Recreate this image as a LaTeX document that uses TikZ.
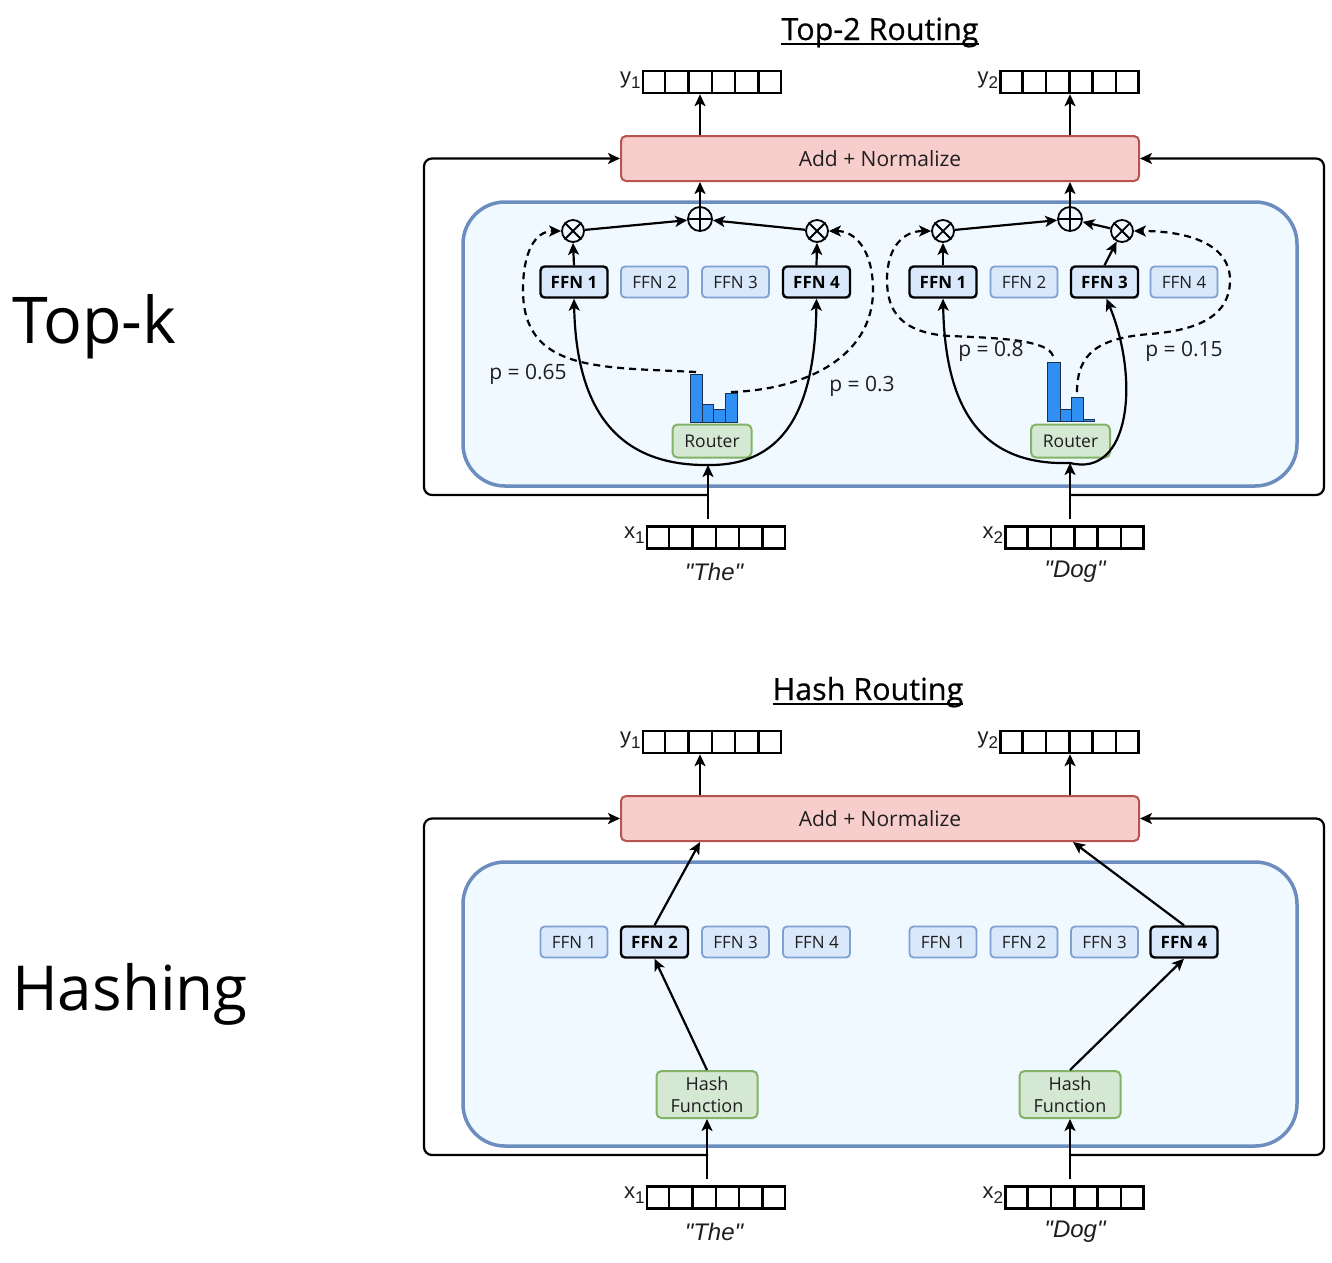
\documentclass[tikz,border=0pt]{standalone}
\usepackage{fontspec}
\setmainfont{Open Sans}
\newfontfamily\titlefont[FakeBold=0.6]{Open Sans}
\newfontfamily\vecfont{Liberation Sans}
\usetikzlibrary{arrows.meta,calc}
\definecolor{addfill}{HTML}{F8CECC}
\definecolor{addborder}{HTML}{B85450}
\definecolor{contfill}{HTML}{F0F9FF}
\definecolor{contborder}{HTML}{6C8EBF}
\definecolor{ffnfill}{HTML}{DAE8FC}
\definecolor{ffnborder}{HTML}{7EA1D3}
\definecolor{ffntext}{HTML}{1E1E1E}
\definecolor{routfill}{HTML}{D5E8D4}
\definecolor{routborder}{HTML}{82B366}
\definecolor{barfill}{HTML}{2F8FF2}
\definecolor{barborder}{HTML}{1B2F4E}
\newcommand{\fsz}[2]{\fontsize{#1}{#2}\selectfont}
\newcommand{\vecbox}[3]{%
  \node[vecst] (#1) at (#2,#3) {};
  \foreach \k in {1,...,5}
    \draw[line width=2.4pt] ([xshift=\k*23.33pt]#1.north west) -- ([xshift=\k*23.33pt]#1.south west);
}
\newcommand{\veclabel}[3]{%
  \node[anchor=east, inner sep=1pt, font=\vecfont\fsz{22pt}{22pt}, text=ffntext] at ([yshift=2pt]#1.west) {#2\raisebox{-5pt}{\fsz{17pt}{17pt}#3}};
}
\begin{document}
\begin{tikzpicture}[x=1pt,y=-1pt,
  vecst/.style={draw, line width=2.4pt, minimum width=138pt, minimum height=22pt, inner sep=0},
  ffn/.style={draw=ffnborder, fill=ffnfill, rounded corners=4pt, line width=1.8pt, minimum width=67pt, minimum height=31pt, inner sep=0, font=\fsz{17pt}{17pt}, text=ffntext},
  ffnon/.style={ffn, draw=black, line width=2.4pt, font=\fsz{17pt}{17pt}\bfseries, text=black},
  addbox/.style={draw=addborder, fill=addfill, rounded corners=5pt, line width=2pt, minimum width=518pt, minimum height=45pt, inner sep=0, font=\fsz{21pt}{21pt}, text=ffntext},
  container/.style={draw=contborder, fill=contfill, line width=3.5pt, rounded corners=42pt},
  router/.style={draw=routborder, fill=routfill, rounded corners=5pt, line width=2pt, minimum width=79pt, minimum height=33pt, inner sep=0, font=\fsz{17.5pt}{17.5pt}, text=ffntext},
  hashbox/.style={draw=routborder, fill=routfill, rounded corners=5pt, line width=2pt, minimum width=101pt, minimum height=47pt, inner sep=0, align=center, font=\fsz{18pt}{22pt}, text=ffntext},
  opc/.style={draw, circle, line width=1.8pt, minimum size=22pt, inner sep=0},
  conn/.style={draw, line width=2.2pt, -{Stealth[length=12pt,width=11pt,inset=3pt]}},
  dconn/.style={conn, dash pattern=on 7pt off 5pt},
  plab/.style={font=\fsz{21pt}{21pt}, text=ffntext, inner sep=0},
  bar/.style={fill=barfill, draw=barborder, line width=1pt},
  title/.style={font=\titlefont\fsz{30.5pt}{30.5pt}, inner sep=0, anchor=base},
  side/.style={font=\fsz{62pt}{62pt}, inner sep=0, anchor=base west},
  word/.style={font=\vecfont\fsz{24pt}{24pt}\itshape, text=ffntext, inner sep=0}
]
\useasboundingbox (0,0) rectangle (1332,1262);

% ---------------- side labels
\node[side, font=\fsz{64.5pt}{64.5pt}] (topk) at (12,343) {Top-k};
\node[side] (hashing) at (12,1010) {Hashing};

% ================= TOP-2 ROUTING =================
\node[title] (t1) at (880,40) {Top-2 Routing};
\draw[line width=1.7pt] ($(t1.base west)+(0,4)$) -- ($(t1.base east)+(0,4)$);

% skip connections
\coordinate (sL) at (708,495);
\coordinate (sR) at (1070,495);
\node[addbox] (addT) at (880,158.5) {Add + Normalize};
\draw[conn, rounded corners=8pt] (sL) -- (424,495) -- (424,158.5) -- (addT.west);
\draw[conn, rounded corners=8pt] (sR) -- (1324,495) -- (1324,158.5) -- (addT.east);

% container
\draw[container] (463,202) rectangle (1297,486);

% vectors
\vecbox{y1}{712}{82}
\vecbox{y2}{1069.5}{82}
\vecbox{x1}{716}{537.5}
\vecbox{x2}{1074.5}{537.5}
\veclabel{y1}{y}{1}
\veclabel{y2}{y}{2}
\veclabel{x1}{x}{1}
\veclabel{x2}{x}{2}
\node[word] (w1) at (714,572) {"The"};
\node[word] (w2) at (1075,572) {"Dog"};

% FFNs
\node[ffnon] (fL1) at (574,282) {FFN 1};
\node[ffn]   (fL2) at (654.5,282) {FFN 2};
\node[ffn]   (fL3) at (735.5,282) {FFN 3};
\node[ffnon] (fL4) at (816.5,282) {FFN 4};
\node[ffnon] (fR1) at (943,282) {FFN 1};
\node[ffn]   (fR2) at (1024,282) {FFN 2};
\node[ffnon] (fR3) at (1104.5,282) {FFN 3};
\node[ffn]   (fR4) at (1184,282) {FFN 4};

% combine circles
\node[opc] (otL1) at (573,231) {};
\node[opc] (otL2) at (817,231) {};
\node[opc, minimum size=24pt] (opL) at (700,219) {};
\node[opc] (otR1) at (943,231) {};
\node[opc] (otR2) at (1122,231) {};
\node[opc, minimum size=24pt] (opR) at (1070,219) {};
\foreach \c in {otL1,otL2,otR1,otR2}{
  \draw[line width=1.8pt] (\c.north west) -- (\c.south east);
  \draw[line width=1.8pt] (\c.north east) -- (\c.south west);
}
\foreach \c in {opL,opR}{
  \draw[line width=1.8pt] (\c.north) -- (\c.south);
  \draw[line width=1.8pt] (\c.west) -- (\c.east);
}

% routers
\node[router] (rL) at (712,441) {Router};
\node[router] (rR) at (1070.5,441) {Router};

% histograms
\draw[bar] (690,422) rectangle (702,374);
\draw[bar] (702,422) rectangle (713,404);
\draw[bar] (713,422) rectangle (725,409);
\draw[bar] (725,422) rectangle (737,393);
\draw[bar] (1047,421) rectangle (1060,362);
\draw[bar] (1060,421) rectangle (1071,409);
\draw[bar] (1071,421) rectangle (1083,397);
\draw[bar] (1083,421) rectangle (1094,419);
\coordinate (hL1) at (696,372);
\coordinate (hL4) at (731,392);
\coordinate (hR1) at (1053,356);
\coordinate (hR3) at (1077,392);

% connectors upward
\draw[conn] (fL1.north) -- (otL1.south);
\draw[conn] (fL4.north) -- (otL2.south);
\draw[conn] (fR1.north) -- (otR1.south);
\draw[conn] (fR3.north) -- (otR2);
\draw[conn] (otL1) -- (opL);
\draw[conn] (otL2) -- (opL);
\draw[conn] (otR1) -- (opR);
\draw[conn] (otR2) -- (opR);
\draw[conn] (opL.north) -- (addT.south -| opL);
\draw[conn] (opR.north) -- (addT.south -| opR);
\draw[conn] (addT.north -| opL) -- (y1.south -| opL);
\draw[conn] (addT.north -| opR) -- (y2.south -| opR);

% dashed gating paths
\draw[dconn] (hL1) .. controls (600,367) and (523,372) .. (523,290) .. controls (523,252) and (535,231) .. (otL1.west);
\draw[dconn] (hL4) .. controls (800,390) and (873,360) .. (873,290) .. controls (873,250) and (855,231) .. (otL2.east);
\draw[dconn] (hR1) .. controls (1048,340) and (1000,338) .. (950,336) .. controls (900,333) and (887,310) .. (887,280) .. controls (887,245) and (905,231) .. (otR1.west);
\draw[dconn] (hR3) .. controls (1077,352) and (1100,338) .. (1150,334) .. controls (1200,330) and (1230,315) .. (1230,280) .. controls (1230,245) and (1190,231) .. (otR2.east);

\node[plab] (pL1) at (528,374) {p = 0.65};
\node[plab] (pL2) at (862,386) {p = 0.3};
\node[plab] (pR1) at (991,351) {p = 0.8};
\node[plab] (pR2) at (1184,351) {p = 0.15};

% token inputs and U curves
\coordinate (uL) at (708,465);
\coordinate (uR) at (1070,463);
\draw[conn] ($(uL |- x1.north)+(0,-6)$) -- (uL);
\draw[conn] ($(uR |- x2.north)+(0,-6)$) -- (uR);
\draw[conn] (uL) .. controls (610,466) and (576,400) .. (fL1.south);
\draw[conn] (uL) .. controls (790,466) and (815,400) .. (fL4.south);
\draw[conn] (uR) .. controls (975,466) and (945,400) .. (fR1.south);
\draw[conn] (uR) .. controls (1130,478) and (1140,380) .. ([xshift=2pt]fR3.south);

% ================= HASH ROUTING =================
\node[title] (t2) at (868,700) {Hash Routing};
\draw[line width=1.7pt] ($(t2.base west)+(0,4)$) -- ($(t2.base east)+(0,4)$);

\coordinate (sBL) at (708,1155);
\coordinate (sBR) at (1070,1155);
\node[addbox] (addB) at (880,818.5) {Add + Normalize};
\draw[conn, rounded corners=8pt] (sBL) -- (424,1155) -- (424,818.5) -- (addB.west);
\draw[conn, rounded corners=8pt] (sBR) -- (1324,1155) -- (1324,818.5) -- (addB.east);

\draw[container] (463,862) rectangle (1297,1146);

\vecbox{y1b}{712}{742}
\vecbox{y2b}{1069.5}{742}
\vecbox{x1b}{716}{1197.5}
\vecbox{x2b}{1074.5}{1197.5}
\veclabel{y1b}{y}{1}
\veclabel{y2b}{y}{2}
\veclabel{x1b}{x}{1}
\veclabel{x2b}{x}{2}
\node[word] (w1b) at (714,1232) {"The"};
\node[word] (w2b) at (1075,1232) {"Dog"};

\node[ffn]   (gL1) at (574,942) {FFN 1};
\node[ffnon] (gL2) at (654.5,942) {FFN 2};
\node[ffn]   (gL3) at (735.5,942) {FFN 3};
\node[ffn]   (gL4) at (816.5,942) {FFN 4};
\node[ffn]   (gR1) at (943,942) {FFN 1};
\node[ffn]   (gR2) at (1024,942) {FFN 2};
\node[ffn]   (gR3) at (1104.5,942) {FFN 3};
\node[ffnon] (gR4) at (1184,942) {FFN 4};

\node[hashbox] (hashL) at (707,1094.5) {Hash\\Function};
\node[hashbox] (hashR) at (1070,1094.5) {Hash\\Function};

\coordinate (inBL) at (700,842);
\coordinate (inBR) at (1073,842);
\draw[conn] ($(hashL.south |- x1b.north)+(0,-6)$) -- (hashL.south);
\draw[conn] ($(hashR.south |- x2b.north)+(0,-6)$) -- (hashR.south);
\draw[conn] (hashL.north) -- (gL2.south);
\draw[conn] (hashR.north) -- (gR4.south);
\draw[conn] (gL2.north) -- (inBL);
\draw[conn] (gR4.north) -- (inBR);
\draw[conn] (addB.north -| inBL) -- (y1b.south -| inBL);
\draw[conn] ($(addB.north -| inBR)+(-3,0)$) -- ($(y2b.south -| inBR)+(-3,0)$);
\end{tikzpicture}
\end{document}
